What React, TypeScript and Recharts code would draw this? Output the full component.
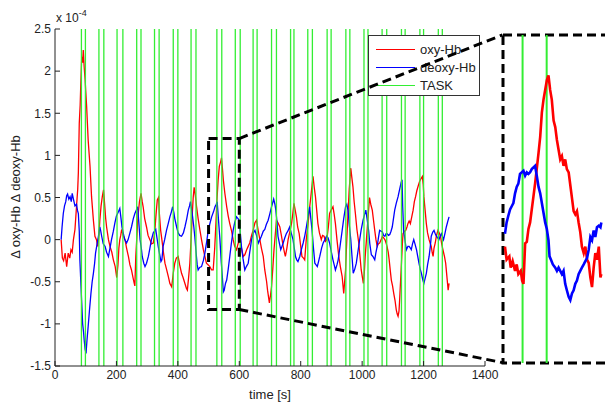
import React from 'react';
import { LineChart, Line, XAxis, YAxis, ReferenceLine, ReferenceArea } from 'recharts';

// values in units of 1e-4
const oxyTime = [
  20, 24, 28, 33, 38, 43, 48, 52, 56, 60, 65, 70, 74, 76, 79, 82, 84, 87, 90, 92, 95, 98, 100, 103, 108,
  114, 119, 125, 130, 135, 139, 143, 146, 150, 154, 158, 161, 165, 168, 174, 179, 185, 190, 196, 201, 205,
  208, 211, 214, 217, 222, 228, 233, 239, 244, 249, 254, 258, 260, 263, 266, 269, 271, 275, 280, 284, 287,
  292, 298, 303, 309, 314, 320, 325, 329, 333, 337, 340, 344, 348, 353, 358, 363, 369, 374, 380, 385, 390,
  395, 401, 406, 412, 417, 423, 428, 431, 435, 439, 443, 447, 450, 453, 456, 461, 466, 472, 477, 483, 488,
  493, 499, 504, 510, 515, 520, 524, 527, 531, 535, 539, 542, 545, 548, 553, 559, 564, 569, 575, 580, 585,
  591, 596, 602, 607, 613, 618, 624, 629, 634, 640, 645, 651, 656, 661, 667, 672, 678, 683, 689, 692, 698,
  702, 705, 709, 713, 717, 721, 726, 732, 737, 743, 747, 750, 755, 759, 765, 770, 774, 778, 782, 786, 790,
  795, 800, 804, 809, 813, 818, 824, 829, 833, 837, 840, 844, 848, 852, 856, 861, 867, 871, 876, 881, 885,
  890, 894, 899, 905, 909, 913, 918, 924, 929, 935, 940, 943, 946, 950, 954, 958, 963, 966, 970, 974, 978,
  983, 989, 993, 997, 1001, 1004, 1007, 1010, 1014, 1019, 1024, 1028, 1033, 1038, 1041, 1045, 1049, 1053,
  1057, 1062, 1066, 1070, 1074, 1078, 1081, 1085, 1088, 1092, 1095, 1099, 1103, 1107, 1111, 1114, 1117,
  1120, 1122, 1125, 1128, 1131, 1133, 1138, 1142, 1146, 1149, 1153, 1157, 1162, 1166, 1170, 1174, 1178,
  1182, 1187, 1191, 1196, 1199, 1201, 1205, 1209, 1213, 1218, 1222, 1225, 1228, 1231, 1234, 1238, 1242,
  1247, 1251, 1255, 1259, 1263, 1268, 1272, 1275, 1277, 1280, 1283,
];
const oxyValues = [
  0.0, -0.22, -0.25, -0.16, -0.32, -0.16, -0.22, -0.12, -0.15, 0.0, 0.12, 0.39, 0.6, 0.79, 1.38, 1.6, 1.85,
  2.17, 2.1, 2.25, 2.05, 1.9, 1.77, 1.58, 1.18, 0.87, 0.51, 0.23, 0.04, 0.0, -0.08, 0.05, 0.23, 0.4, 0.51,
  0.59, 0.45, 0.25, 0.15, 0.0, -0.08, -0.15, -0.24, -0.32, -0.45, -0.3, -0.1, 0.0, 0.05, 0.12, 0.05, 0.0,
  -0.1, -0.2, -0.3, -0.36, -0.45, -0.52, -0.55, -0.2, 0.0, 0.2, 0.31, 0.45, 0.55, 0.45, 0.39, 0.25, 0.15,
  0.05, 0.0, -0.05, -0.04, 0.1, 0.3, 0.47, 0.5, 0.3, 0.11, 0.0, -0.15, -0.28, -0.35, -0.44, -0.52, -0.56,
  -0.4, -0.28, -0.22, -0.2, -0.3, -0.4, -0.45, -0.52, -0.58, -0.6, -0.45, -0.28, 0.0, 0.31, 0.5, 0.62, 0.55,
  0.39, 0.25, 0.11, 0.0, -0.12, -0.2, -0.28, -0.3, -0.32, -0.36, -0.36, -0.1, 0.2, 0.45, 0.7, 0.87, 0.92,
  0.97, 0.85, 0.71, 0.55, 0.39, 0.28, 0.19, 0.1, 0.0, -0.08, -0.12, -0.05, 0.0, -0.1, -0.2, -0.18, -0.12,
  -0.08, -0.04, 0.05, 0.11, 0.2, 0.23, 0.12, 0.0, -0.1, -0.2, -0.36, -0.5, -0.6, -0.75, -0.65, -0.56, -0.35,
  -0.12, 0.05, 0.23, 0.2, 0.15, 0.05, -0.08, -0.15, -0.2, -0.1, 0.0, 0.1, 0.19, 0.3, 0.43, 0.35, 0.27, 0.15,
  0.07, -0.08, -0.2, -0.22, -0.24, 0.0, 0.19, 0.38, 0.51, 0.65, 0.75, 0.62, 0.51, 0.35, 0.19, 0.08, 0.0,
  0.05, 0.04, -0.02, 0.0, 0.15, 0.31, 0.35, 0.39, 0.3, 0.19, 0.0, -0.2, -0.32, -0.44, -0.64, -0.5, -0.36,
  0.0, 0.31, 0.6, 0.85, 0.75, 0.63, 0.45, 0.31, 0.12, -0.04, -0.2, -0.36, -0.45, -0.52, -0.4, -0.2, 0.0,
  0.25, 0.5, 0.42, 0.35, 0.2, 0.11, 0.0, -0.08, -0.05, -0.04, 0.0, 0.04, 0.02, 0.0, -0.04, -0.08, -0.15,
  -0.24, -0.38, -0.48, -0.55, -0.64, -0.72, -0.83, -0.88, -0.91, -0.85, -0.72, -0.5, -0.28, -0.05, 0.07,
  0.1, 0.11, 0.15, 0.19, 0.22, 0.19, 0.28, 0.35, 0.45, 0.51, 0.58, 0.63, 0.69, 0.72, 0.75, 0.65, 0.51, 0.35,
  0.19, 0.08, 0.0, -0.05, -0.08, -0.15, -0.2, -0.1, -0.04, 0.05, 0.11, 0.08, 0.04, -0.05, -0.12, -0.2,
  -0.28, -0.4, -0.48, -0.6, -0.52,
];

const deoxyTime = [
  20, 23, 27, 31, 35, 38, 41, 45, 49, 53, 56, 60, 65, 70, 73, 76, 79, 81, 84, 87, 90, 93, 95, 98, 101, 104,
  108, 112, 117, 121, 125, 129, 132, 137, 141, 146, 149, 152, 157, 163, 168, 174, 179, 184, 190, 195, 200,
  205, 211, 215, 218, 222, 227, 233, 238, 244, 249, 255, 260, 265, 269, 273, 277, 281, 284, 289, 293, 298,
  304, 309, 314, 320, 324, 328, 332, 336, 341, 345, 348, 352, 357, 363, 368, 374, 379, 383, 387, 390, 396,
  401, 406, 412, 418, 423, 429, 434, 438, 441, 444, 448, 452, 455, 460, 463, 466, 471, 477, 483, 488, 494,
  499, 505, 510, 516, 521, 525, 528, 531, 534, 537, 541, 545, 548, 551, 555, 559, 564, 569, 574, 580, 585,
  591, 596, 600, 604, 607, 612, 618, 623, 629, 634, 640, 646, 651, 656, 662, 667, 672, 678, 683, 688, 694,
  699, 705, 709, 712, 716, 719, 723, 726, 731, 735, 739, 743, 748, 753, 758, 764, 769, 775, 779, 783, 787,
  791, 797, 802, 808, 813, 818, 822, 826, 829, 833, 837, 841, 846, 850, 854, 858, 862, 868, 873, 879, 884,
  889, 894, 900, 905, 909, 913, 918, 922, 928, 935, 940, 946, 950, 954, 958, 963, 967, 971, 976, 981, 986,
  992, 997, 1003, 1008, 1012, 1016, 1021, 1025, 1030, 1035, 1041, 1045, 1049, 1053, 1057, 1062, 1066, 1070,
  1074, 1078, 1081, 1086, 1090, 1094, 1098, 1102, 1106, 1111, 1117, 1121, 1124, 1127, 1130, 1132, 1135,
  1140, 1144, 1149, 1153, 1157, 1160, 1164, 1168, 1172, 1177, 1181, 1185, 1189, 1193, 1197, 1201, 1205,
  1209, 1213, 1218, 1222, 1225, 1230, 1234, 1238, 1242, 1246, 1250, 1254, 1258, 1262, 1265, 1270, 1274,
  1279, 1283,
];
const deoxyValues = [
  0.0, 0.15, 0.31, 0.4, 0.45, 0.52, 0.54, 0.48, 0.51, 0.45, 0.55, 0.48, 0.4, 0.42, 0.35, 0.31, 0.1, -0.24,
  -0.5, -0.75, -1.0, -1.1, -1.19, -1.3, -1.35, -1.2, -1.03, -0.85, -0.64, -0.5, -0.4, -0.28, -0.16, -0.05,
  0.03, 0.15, 0.1, 0.04, -0.05, -0.08, -0.15, -0.2, -0.1, 0.0, 0.1, 0.2, 0.28, 0.32, 0.37, 0.25, 0.15, 0.08,
  0.0, -0.04, 0.0, 0.08, 0.15, 0.25, 0.31, 0.35, 0.39, 0.2, 0.0, -0.1, -0.2, -0.28, -0.32, -0.28, -0.2,
  -0.1, 0.0, 0.08, 0.1, 0.12, 0.02, -0.08, -0.18, -0.26, -0.24, -0.08, 0.0, 0.11, 0.18, 0.27, 0.33, 0.39,
  0.32, 0.25, 0.15, 0.08, 0.05, 0.04, 0.08, 0.15, 0.25, 0.35, 0.4, 0.45, 0.38, 0.27, 0.15, 0.04, -0.18,
  -0.3, -0.36, -0.33, -0.32, -0.25, -0.16, -0.02, 0.11, 0.2, 0.27, 0.33, 0.39, 0.42, 0.45, 0.3, 0.15, 0.0,
  -0.25, -0.45, -0.62, -0.6, -0.52, -0.48, -0.35, -0.2, -0.05, 0.11, 0.2, 0.27, 0.25, 0.23, 0.05, -0.08,
  -0.22, -0.36, -0.32, -0.28, -0.15, 0.0, 0.08, 0.11, 0.05, -0.04, 0.0, 0.04, 0.1, 0.12, 0.18, 0.23, 0.3,
  0.39, 0.44, 0.48, 0.42, 0.35, 0.2, 0.04, -0.05, -0.12, -0.08, -0.04, 0.02, 0.07, 0.1, 0.15, 0.08, 0.0,
  -0.1, -0.2, -0.24, -0.26, -0.2, -0.12, -0.04, 0.04, 0.14, 0.23, 0.32, 0.39, 0.25, 0.11, -0.08, -0.28,
  -0.3, -0.32, -0.26, -0.2, -0.1, -0.04, 0.0, 0.04, 0.02, -0.04, -0.15, -0.24, -0.3, -0.36, -0.3, -0.24,
  -0.08, 0.11, 0.25, 0.39, 0.42, 0.35, 0.18, 0.0, -0.2, -0.4, -0.35, -0.28, -0.15, 0.0, 0.12, 0.23, 0.3,
  0.35, 0.25, 0.11, -0.05, -0.18, -0.2, -0.24, -0.15, -0.08, 0.02, 0.11, 0.1, 0.09, 0.05, 0.04, 0.07, 0.07,
  0.05, 0.06, 0.1, 0.15, 0.25, 0.35, 0.43, 0.51, 0.58, 0.63, 0.68, 0.71, 0.4, 0.11, -0.02, -0.12, -0.08,
  -0.08, -0.1, -0.12, -0.05, 0.0, -0.05, -0.12, -0.2, -0.28, -0.35, -0.4, -0.47, -0.52, -0.46, -0.4, -0.3,
  -0.2, -0.08, 0.04, 0.09, 0.11, 0.07, 0.04, 0.02, 0.0, 0.04, 0.07, 0.03, 0.0, 0.08, 0.15, 0.22, 0.27,
];

const taskTimes = [
  86, 99, 143, 159, 202, 221, 266, 280, 324, 339, 385, 400, 443, 459, 527, 543, 587, 603, 645, 658, 705,
  721, 767, 778, 823, 838, 886, 899, 947, 960, 1006, 1019, 1065, 1080, 1128, 1140, 1188, 1200, 1248, 1261,
];

// zoomed window shown on the right
const insetOxyTime = [
  515.3, 516.4, 518.2, 519.1, 520.4, 522, 523.1, 524.2, 525.8, 526.7, 527.6, 528.7, 529.8, 530.9, 532,
  533.1, 534.2, 535.3, 536.4, 537.6, 538.7, 539.8, 540.9, 542, 543.1, 544.2, 545.3, 546.4, 547.6, 548.7,
  549.8, 550.9, 552, 553.1, 554.2, 555.3, 556.4, 557.6, 558.7, 559.8, 560.9, 562, 563.1, 564.2, 565.3,
  566.4, 567.6, 568.7, 569.8, 570.9, 572, 573.1, 574.2, 575.3, 576.4, 577.6, 578.7, 579.3,
];
const insetOxyValues = [
  -0.11, -0.19, -0.17, -0.24, -0.2, -0.26, -0.22, -0.28, -0.26, -0.32, -0.34, -0.09, -0.08, 0.0, 0.04, 0.12,
  0.2, 0.28, 0.37, 0.47, 0.57, 0.72, 0.8, 0.86, 0.92, 0.95, 0.86, 0.8, 0.67, 0.63, 0.55, 0.49, 0.43, 0.45,
  0.39, 0.43, 0.37, 0.35, 0.27, 0.19, 0.11, 0.09, 0.11, 0.04, -0.02, -0.11, -0.15, -0.11, -0.19, -0.21, -0.3,
  -0.36, -0.24, -0.15, -0.19, -0.11, -0.3, -0.28,
];
const insetDeoxyTime = [
  515.3, 516.4, 517.5, 518.7, 519.8, 520.9, 522, 523.1, 524.2, 525.3, 526.4, 527.6, 528.7, 529.8, 530.9,
  532, 533.1, 534.2, 535.3, 536.4, 537.6, 538.7, 539.8, 540.9, 542, 543.1, 544.2, 544.9, 545.8, 547.1,
  548.7, 549.8, 550.9, 552, 553.1, 554.2, 555.3, 556.4, 557.6, 558.7, 559.8, 560.9, 562, 563.1, 564.2,
  565.3, 566.4, 567.6, 568.7, 569.8, 570.9, 572, 573.1, 574.2, 575.3, 576.4, 577.6, 578.7, 579.3,
];
const insetDeoxyValues = [
  -0.03, 0.04, 0.08, 0.12, 0.14, 0.16, 0.22, 0.26, 0.28, 0.34, 0.35, 0.36, 0.33, 0.35, 0.34, 0.35, 0.37,
  0.38, 0.39, 0.33, 0.26, 0.22, 0.16, 0.1, 0.04, 0.0, -0.07, -0.17, -0.19, -0.22, -0.24, -0.26, -0.24,
  -0.26, -0.28, -0.26, -0.34, -0.38, -0.42, -0.44, -0.4, -0.38, -0.34, -0.32, -0.28, -0.26, -0.24, -0.22,
  -0.2, -0.18, -0.13, -0.05, -0.07, -0.01, -0.05, 0.01, 0.02, 0.01, 0.04,
];

const xTicks = [0, 200, 400, 600, 800, 1000, 1200, 1400];
const yTicks = [-1.5, -1, -0.5, 0, 0.5, 1, 1.5, 2, 2.5];
const legendItems = [
  { name: 'oxy-Hb', color: '#ff0000' },
  { name: 'deoxy-Hb', color: '#0000ff' },
  { name: 'TASK', color: '#33ee33' },
];

// zoom box (main axis units) and the inset corners expressed in main axis units
const zoomBox = { x1: 500, x2: 600, y1: -0.83, y2: 1.2 };
const insetCorner = { x: 1457, yTop: 2.43, yBottom: -1.46 };
const insetDomainX: [number, number] = [514, 597];

const FONT = "Arial, 'Liberation Sans', Helvetica, sans-serif";
const AXIS = '#222';
const GREEN = '#33ee33';

const oxyData = oxyTime.map((t, i) => ({ t, v: oxyValues[i] }));
const deoxyData = deoxyTime.map((t, i) => ({ t, v: deoxyValues[i] }));
const insetOxy = insetOxyTime.map((t, i) => ({ t, v: insetOxyValues[i] }));
const insetDeoxy = insetDeoxyTime.map((t, i) => ({ t, v: insetDeoxyValues[i] }));

const tickStyle = { fontSize: 12, fill: AXIS, fontFamily: FONT };
const dashed = { stroke: '#000', strokeWidth: 3, strokeDasharray: '9 5' };

export default function App() {
  return (
    <div style={{ position: 'absolute', left: 0, top: 0, width: 605, height: 402, overflow: 'hidden', background: '#fff', fontFamily: FONT }}>
      <div style={{ position: 'absolute', left: 0, top: 0 }}>
        <LineChart width={605} height={402} margin={{ top: 29, right: 120, bottom: 0, left: 0 }}>
          <XAxis
            dataKey="t"
            type="number"
            domain={[0, 1400]}
            ticks={xTicks}
            height={36}
            tickSize={-5}
            tickMargin={9}
            tick={tickStyle}
            stroke={AXIS}
            label={{ value: 'time [s]', position: 'insideBottom', offset: 3, fontSize: 13, fill: AXIS, fontFamily: FONT }}
          />
          <XAxis xAxisId="top" orientation="top" type="number" domain={[0, 1400]} ticks={xTicks} height={0} tickSize={-5} tick={false} stroke={AXIS} />
          <YAxis type="number" domain={[-1.5, 2.5]} ticks={yTicks} width={55} tickSize={-5} tickMargin={9} tick={tickStyle} stroke={AXIS} />
          <YAxis yAxisId="right" orientation="right" type="number" domain={[-1.5, 2.5]} ticks={yTicks} width={0} tickSize={-5} tick={false} stroke={AXIS} />
          <Line data={oxyData} dataKey="v" stroke="#ff0000" strokeWidth={1.3} dot={false} isAnimationActive={false} />
          <Line data={deoxyData} dataKey="v" stroke="#0000ff" strokeWidth={1.3} dot={false} isAnimationActive={false} />
          {taskTimes.map((t) => (
            <ReferenceLine key={t} x={t} stroke={GREEN} strokeWidth={1.3} />
          ))}
        </LineChart>
      </div>

      <div
        style={{
          position: 'absolute', left: 15, top: 197, fontSize: 13, color: AXIS, whiteSpace: 'nowrap',
          transform: 'translate(-50%, -50%) rotate(-90deg)',
        }}
      >
        Δ oxy-Hb Δ deoxy-Hb
      </div>

      <div style={{ position: 'absolute', left: 56, top: 9, fontSize: 12, color: AXIS }}>
        x 10<sup style={{ fontSize: 9, position: 'relative', top: -1 }}>-4</sup>
      </div>

      <div style={{ position: 'absolute', left: 368, top: 35, width: 110, height: 59, border: '1px solid #333', background: '#fff' }}>
        {legendItems.map((item, i) => (
          <div key={item.name} style={{ position: 'absolute', left: 7, top: 5 + i * 18, height: 16, display: 'flex', alignItems: 'center' }}>
            <div style={{ width: 39, height: 1, background: item.color }} />
            <span style={{ marginLeft: 5, fontSize: 13, color: '#222' }}>{item.name}</span>
          </div>
        ))}
      </div>

      <div style={{ position: 'absolute', left: 501, top: 33 }}>
        <LineChart width={129} height={332} margin={{ top: 2, right: 2, bottom: 2, left: 2 }}>
          <XAxis dataKey="t" type="number" domain={insetDomainX} hide allowDataOverflow />
          <YAxis type="number" domain={[zoomBox.y1, zoomBox.y2]} hide allowDataOverflow />
          {taskTimes.map((t) => (
            <ReferenceLine key={t} x={t} stroke={GREEN} strokeWidth={2} />
          ))}
          <Line data={insetOxy} dataKey="v" stroke="#ff0000" strokeWidth={2.6} dot={false} isAnimationActive={false} />
          <Line data={insetDeoxy} dataKey="v" stroke="#0000ff" strokeWidth={2.6} dot={false} isAnimationActive={false} />
          <ReferenceArea x1={insetDomainX[0]} x2={insetDomainX[1]} y1={zoomBox.y1} y2={zoomBox.y2} fill="none" {...dashed} />
        </LineChart>
      </div>

      <div style={{ position: 'absolute', left: 0, top: 0 }}>
        <LineChart width={605} height={402} margin={{ top: 29, right: 120, bottom: 36, left: 55 }}>
          <XAxis dataKey="t" type="number" domain={[0, 1400]} hide allowDataOverflow />
          <YAxis type="number" domain={[-1.5, 2.5]} hide allowDataOverflow />
          <Line data={oxyData} dataKey="v" stroke="none" strokeOpacity={0} dot={false} isAnimationActive={false} />
          <ReferenceArea x1={zoomBox.x1} x2={zoomBox.x2} y1={zoomBox.y1} y2={zoomBox.y2} fill="none" {...dashed} />
          <ReferenceLine segment={[{ x: zoomBox.x2, y: zoomBox.y2 }, { x: insetCorner.x, y: insetCorner.yTop }]} ifOverflow="visible" {...dashed} />
          <ReferenceLine segment={[{ x: zoomBox.x2, y: zoomBox.y1 }, { x: insetCorner.x, y: insetCorner.yBottom }]} ifOverflow="visible" {...dashed} />
        </LineChart>
      </div>
    </div>
  );
}
